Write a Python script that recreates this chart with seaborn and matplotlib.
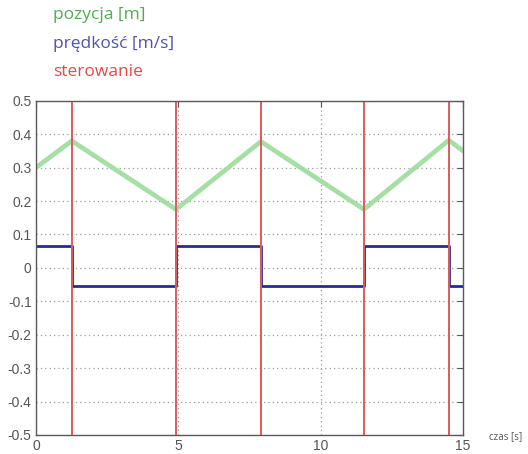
import numpy as np
import pandas as pd
import matplotlib
matplotlib.use("Agg")
import matplotlib.pyplot as plt
import seaborn as sns

# dane
czasy_przelaczen = [1.26, 4.92, 7.90, 11.52, 14.50]

pozycja_t = [0.0, 1.26, 4.92, 7.90, 11.52, 14.50, 15.0]
pozycja_m = [0.30, 0.38, 0.175, 0.378, 0.175, 0.382, 0.35]

predkosc_t = [0.0, 1.26, 4.92, 7.90, 11.52, 14.50, 15.0]
predkosc_ms = [0.065, -0.055, 0.065, -0.055, 0.065, -0.055, -0.055]

y_ticks = [-0.5, -0.4, -0.3, -0.2, -0.1, 0, 0.1, 0.2, 0.3, 0.4, 0.5]
x_ticks = [0, 5, 10, 15]

sns.set_style("white")
plt.rcParams['font.family'] = ['Liberation Sans', 'DejaVu Sans']
plt.rcParams['axes.unicode_minus'] = False

df_poz = pd.DataFrame({'t': pozycja_t, 'y': pozycja_m})
df_pred = pd.DataFrame({'t': predkosc_t, 'y': predkosc_ms})

fig = plt.figure(figsize=(5.28, 4.54), dpi=100)
ax = fig.add_axes([0.068, 0.042, 0.809, 0.736])

sns.lineplot(data=df_poz, x='t', y='y', ax=ax, color='#9ddc9d', linewidth=3.4, alpha=0.9)
sns.lineplot(data=df_pred, x='t', y='y', ax=ax, color='#2a2a96', linewidth=2.0,
             drawstyle='steps-post')
for t in czasy_przelaczen:
    ax.axvline(t, color='#e05a5a', linewidth=1.4)

ax.set_xlim(0, 15)
ax.set_ylim(-0.5, 0.5)
ax.set_xticks(x_ticks)
ax.set_yticks(y_ticks)
ax.set_xticklabels([f"{v:g}" for v in x_ticks])
ax.set_yticklabels([f"{v:g}" for v in y_ticks])
ax.set_xlabel('')
ax.set_ylabel('')
ax.grid(True, color='#9a9a9a', linestyle=(0, (1, 2.5)), linewidth=0.9)
ax.tick_params(direction='in', length=4, width=0.8, color='#555555',
               labelcolor='#555555', labelsize=10, top=True, right=True, pad=3)
for s in ax.spines.values():
    s.set_color('#5a5a5a')
    s.set_linewidth(1.0)

# legenda jako tekst
leg_font = ['Open Sans', 'DejaVu Sans']
fig.text(53 / 528, 1 - 15 / 454, 'pozycja [m]', color='#4caf50', fontsize=12.5,
         family=leg_font, va='center')
fig.text(53 / 528, 1 - 44 / 454, 'prędkość [m/s]', color='#5252ae', fontsize=12.5,
         family=leg_font, va='center')
fig.text(53 / 528, 1 - 72 / 454, 'sterowanie', color='#e84848', fontsize=12.5,
         family=leg_font, va='center')
fig.text(489 / 528, 1 - 437 / 454, 'czas [s]', color='#555555', fontsize=7,
         family=leg_font, va='center')

plt.savefig('out.png', dpi=100)
plt.close()
